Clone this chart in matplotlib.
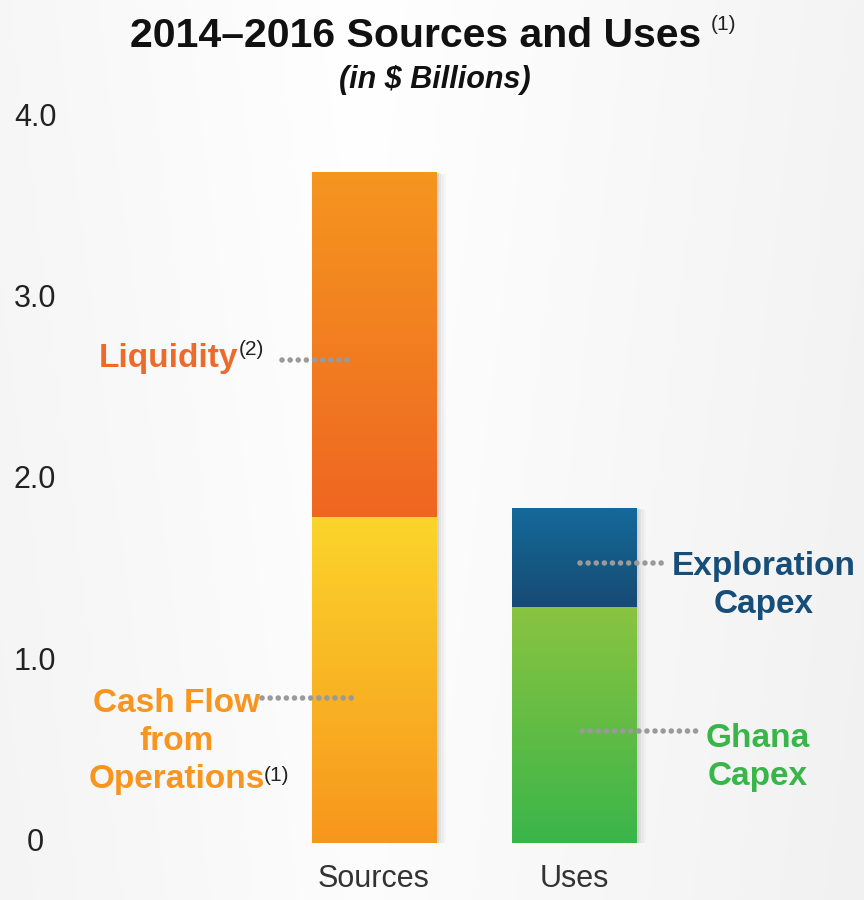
import numpy as np
import matplotlib
matplotlib.use("Agg")
import matplotlib.pyplot as plt
from matplotlib.colors import LinearSegmentedColormap
from matplotlib import font_manager as fm

categories = ["Sources", "Uses"]
bottom_labels = ["Cash Flow\nfrom\nOperations", "Ghana\nCapex"]
top_labels = ["Liquidity", "Exploration\nCapex"]
bottom_values = [1.80, 1.30]
top_values = [1.90, 0.55]
yticks = [0, 1.0, 2.0, 3.0, 4.0]
ytick_labels = ["0", "1.0", "2.0", "3.0", "4.0"]

names = {f.name for f in fm.fontManager.ttflist}
narrow = "Liberation Sans Narrow" if "Liberation Sans Narrow" in names else "Liberation Sans"
FONT = [narrow, "DejaVu Sans"]
plt.rcParams["font.family"] = FONT

fig = plt.figure(figsize=(8.64, 9.0), dpi=100)

# background gradient
bg = fig.add_axes([0, 0, 1, 1], zorder=-10)
xx = np.linspace(0, 1, 300)
yy = np.linspace(0, 1, 300)
X, Y = np.meshgrid(xx, yy)
shade = 0.955 + 0.045 * np.clip(1 - np.abs(X - 0.42) * 1.7, 0, 1) - 0.01 * (1 - Y)
bg.imshow(np.dstack([shade, shade, shade]), extent=[0, 1, 0, 1], aspect="auto", origin="lower")
bg.axis("off")

ax = fig.add_axes([0, 1 - 843 / 900, 1, (843 - 118) / 900])
ax.patch.set_alpha(0)
for s in ax.spines.values():
    s.set_visible(False)
ax.set_xticks([])
ax.set_yticks([])

x = np.arange(len(categories))
width = 0.625

def grad(c_top, c_bot):
    return LinearSegmentedColormap.from_list("g", [c_bot, c_top])

seg_colors = {
    ("Sources", "bottom"): ("#FBD52B", "#F7961D"),
    ("Sources", "top"): ("#F5961F", "#EF6622"),
    ("Uses", "bottom"): ("#8AC440", "#3AB54A"),
    ("Uses", "top"): ("#146A9B", "#174B73"),
}

# shadows
for i in range(len(categories)):
    total = bottom_values[i] + top_values[i]
    for k, a in enumerate([0.06, 0.045, 0.03, 0.02]):
        off = 0.012 * (k + 1)
        ax.bar(x[i] + off, total, width, bottom=-off * 0.22, color="black", alpha=a, zorder=1, linewidth=0)

grad_arr = np.linspace(0, 1, 256).reshape(-1, 1)
b1 = ax.bar(x, bottom_values, width, color="none", zorder=2, linewidth=0)
b2 = ax.bar(x, top_values, width, bottom=bottom_values, color="none", zorder=2, linewidth=0)
for i, cat in enumerate(categories):
    for bars, part, y0, h in [(b1, "bottom", 0, bottom_values[i]), (b2, "top", bottom_values[i], top_values[i])]:
        ct, cb = seg_colors[(cat, part)]
        im = ax.imshow(grad_arr, cmap=grad(ct, cb), origin="lower", aspect="auto",
                       extent=[x[i] - width / 2, x[i] + width / 2, y0, y0 + h], zorder=3)
        im.set_clip_path(bars[i])
ax.set_xlim(-1.87, 2.45)
ax.set_ylim(0, 4.0)

# y tick labels
for v, t in zip(yticks, ytick_labels):
    ax.text(-1.695, v, t, ha="center", va="center", fontsize=22, color="#222222")

# x labels
for i, c in enumerate(categories):
    ax.text(x[i], -0.2, c, ha="center", va="center", fontsize=22, color="#333333")

dot_kw = dict(color="#9A9A9A", linestyle=(0, (0.01, 1.45)), linewidth=4.0,
              dash_capstyle="round", solid_capstyle="round", zorder=5)

# Liquidity
yl = bottom_values[0] + top_values[0] * 0.455
ax.plot([-0.46, -0.1], [yl, yl], **dot_kw)
ax.text(-0.68, yl + 0.01, top_labels[0], ha="right", va="center", fontsize=24, fontweight="bold", color="#EE6A2B")
ax.text(-0.675, yl + 0.06, "(2)", ha="left", va="center", fontsize=15, color="#222222")

# Cash Flow from Operations
yc = bottom_values[0] * 0.445
ax.plot([-0.56, -0.1], [yc, yc], **dot_kw)
ax.text(-0.985, yc - 0.24, bottom_labels[0], ha="center", va="center", fontsize=24,
        fontweight="bold", color="#F7951F", linespacing=1.3)
ax.text(-0.55, yc - 0.43, "(1)", ha="left", va="center", fontsize=15, color="#222222")

# Exploration Capex
ye = bottom_values[1] + top_values[1] * 0.45
ax.plot([1.03, 1.46], [ye, ye], **dot_kw)
ax.text(1.95, ye - 0.125, top_labels[1], ha="center", va="center", fontsize=24,
        fontweight="bold", color="#164E79", linespacing=1.3)

# Ghana Capex
yg = bottom_values[1] * 0.475
ax.plot([1.04, 1.64], [yg, yg], **dot_kw)
ax.text(1.92, yg - 0.145, bottom_labels[1], ha="center", va="center", fontsize=24,
        fontweight="bold", color="#3AB54A", linespacing=1.3)

# titles
fig.text(0.481, 1 - 36 / 900, "2014\u20132016 Sources and Uses", ha="center", va="center",
         fontsize=29.5, fontweight="bold", color="#111111")
fig.text(0.837, 1 - 24 / 900, "(1)", ha="center", va="center", fontsize=15, color="#222222")
fig.text(0.503, 1 - 80 / 900, "(in $ Billions)", ha="center", va="center", fontsize=22,
         fontweight="bold", fontstyle="italic", color="#111111")

fig.savefig("out.png", dpi=100)
